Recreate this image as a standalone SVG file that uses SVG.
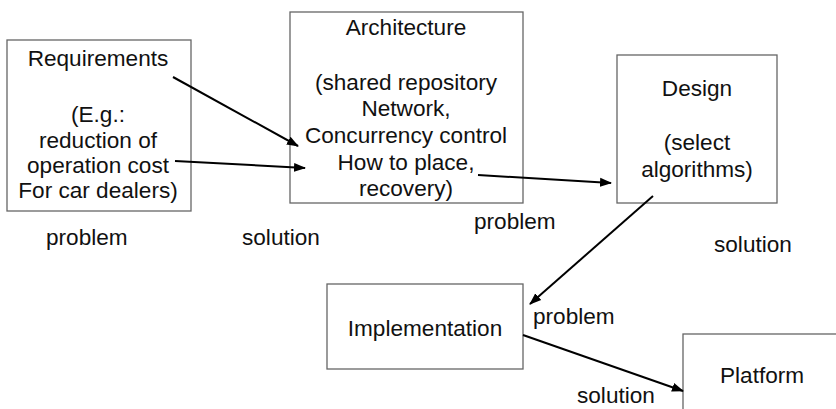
<svg xmlns="http://www.w3.org/2000/svg" width="836" height="409" viewBox="0 0 836 409">
<style>
.box{fill:#fff;stroke:#666;stroke-width:1.3}
.t{font-family:"Liberation Sans",Arial,Helvetica,sans-serif;font-size:22.6px;fill:#111}
.c{text-anchor:middle}
.ln{stroke:#000;stroke-width:2;fill:none;marker-end:url(#ah)}
</style>
<defs>
<marker id="ah" markerUnits="userSpaceOnUse" markerWidth="12" markerHeight="10" refX="11" refY="5" orient="auto">
<path d="M0,0.5 L12,5 L0,9.5 Z" fill="#000"/>
</marker>
</defs>
<rect width="836" height="409" fill="#fff"/>
<g id="requirements">
<rect class="box" x="7" y="40" width="184" height="171"/>
<text class="t c" x="98" y="66">Requirements</text>
<text class="t c" x="98" y="122">(E.g.:</text>
<text class="t c" x="98" y="147.5">reduction of</text>
<text class="t c" x="98" y="172.5">operation cost</text>
<text class="t c" x="98" y="197.5">For car dealers)</text>
</g>
<g id="architecture">
<rect class="box" x="290" y="12" width="233" height="191"/>
<text class="t c" x="406" y="35">Architecture</text>
<text class="t c" x="406" y="90">(shared repository</text>
<text class="t c" x="406" y="116">Network,</text>
<text class="t c" x="406" y="143">Concurrency control</text>
<text class="t c" x="406" y="170">How to place,</text>
<text class="t c" x="406" y="196">recovery)</text>
</g>
<g id="design">
<rect class="box" x="617" y="55" width="160" height="148"/>
<text class="t c" x="697" y="96">Design</text>
<text class="t c" x="697" y="150">(select</text>
<text class="t c" x="697" y="176.5">algorithms)</text>
</g>
<g id="implementation">
<rect class="box" x="327" y="284" width="196" height="85"/>
<text class="t c" x="425" y="336">Implementation</text>
</g>
<g id="platform">
<rect class="box" x="683" y="334" width="200" height="100"/>
<text class="t" x="720" y="383">Platform</text>
</g>
<g id="connectors">
<line class="ln" x1="173" y1="77" x2="298" y2="146"/>
<line class="ln" x1="175" y1="161" x2="305" y2="168"/>
<line class="ln" x1="478" y1="175" x2="611" y2="183"/>
<line class="ln" x1="653" y1="196" x2="530" y2="304"/>
<line class="ln" x1="523" y1="335" x2="683" y2="391"/>
</g>
<g id="labels">
<text class="t" x="46" y="245">problem</text>
<text class="t" x="242" y="245">solution</text>
<text class="t" x="474" y="229">problem</text>
<text class="t" x="714" y="252">solution</text>
<text class="t" x="533" y="324">problem</text>
<text class="t" x="577" y="403">solution</text>
</g>
</svg>
